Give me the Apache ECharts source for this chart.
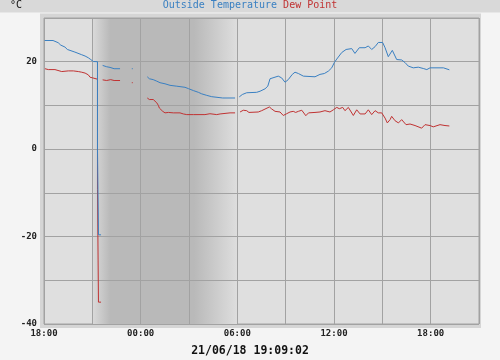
<!DOCTYPE html>
<html>
<head>
<meta charset="utf-8">
<script src="https://cdn.jsdelivr.net/npm/echarts@6/dist/echarts.min.js"></script>
<style>
html,body{margin:0;padding:0;background:#f4f4f4;}
#chart{width:500px;height:360px;}
</style>
</head>
<body>
<div id="chart"></div>
<script>
// Hours since 18:00 on 20/06/18, value in °C. '-' marks a gap in the record.
const outsideTemp = [
 [0.04,24.85],[0.56,24.85],[0.62,24.4],[0.88,24.35],[0.95,24.05],[1.04,23.8],[1.16,23.6],[1.30,23.35],[1.45,22.8],[1.57,22.4],[1.92,22.2],[2.03,21.9],[2.34,21.6],[2.55,21.3],[2.75,20.9],[2.90,20.5],[3.06,20.05],[3.32,20.0],[3.32,0.0],[3.38,0.0],[3.38,-19.6],[3.54,-19.6],[3.59,'-'],
 [3.64,19.15],[3.89,18.85],[4.10,18.7],[4.35,18.4],[4.72,18.4],[5.0,'-'],
 [5.45,18.4],[5.51,18.4],[6.0,'-'],
 [6.41,16.55],[6.54,16.1],[6.78,15.9],[7.00,15.55],[7.20,15.2],[7.51,14.95],[7.82,14.6],[8.24,14.4],[8.75,14.15],[8.96,13.85],[9.27,13.4],[9.58,13.0],[9.79,12.65],[10.10,12.3],[10.41,12.0],[11.09,11.7],[11.86,11.7],[11.98,'-'],
 [12.12,11.95],[12.31,12.5],[12.58,12.9],[13.20,13.0],[13.41,13.25],[13.72,13.8],[13.89,14.4],[14.03,16.1],[14.13,16.45],[14.54,16.7],[14.75,16.3],[14.96,15.3],[15.16,15.9],[15.41,17.1],[15.58,17.6],[15.79,17.3],[16.10,16.7],[16.82,16.55],[17.13,17.1],[17.40,17.3],[17.65,17.85],[17.86,18.6],[18.02,19.8],[18.17,20.6],[18.27,21.05],[18.48,22.1],[18.75,22.8],[19.10,23.0],[19.30,21.9],[19.57,23.2],[19.93,23.2],[20.13,23.6],[20.34,22.8],[20.55,23.45],[20.75,24.4],[21.02,24.4],[21.17,23.2],[21.37,21.15],[21.62,22.6],[21.89,20.5],[22.20,20.4],[22.41,19.8],[22.61,19.0],[22.92,18.6],[23.23,18.75],[23.54,18.45],[23.76,18.2],[23.96,18.6],[24.79,18.6],[25.16,18.15]
];
const dewPoint = [
 [0.06,18.4],[0.17,18.0],[0.27,18.2],[0.68,18.2],[0.79,18.05],[1.10,17.75],[1.20,18.0],[1.51,17.9],[1.61,17.75],[1.82,17.9],[2.13,17.75],[2.34,17.6],[2.55,17.4],[2.75,17.0],[2.86,16.45],[3.02,16.3],[3.06,16.0],[3.32,16.0],[3.32,-9.3],[3.38,-9.3],[3.38,-35.0],[3.54,-35.0],[3.59,'-'],
 [3.64,15.85],[3.89,15.7],[3.99,16.1],[4.14,15.9],[4.35,15.7],[4.72,15.7],[5.0,'-'],
 [5.45,15.2],[5.51,15.2],[6.0,'-'],
 [6.41,11.7],[6.54,11.35],[6.78,11.35],[6.89,10.95],[7.00,10.6],[7.10,10.0],[7.16,9.4],[7.24,9.2],[7.37,8.65],[7.51,8.3],[7.72,8.4],[8.03,8.3],[8.44,8.3],[8.65,8.05],[8.86,7.9],[9.27,7.9],[9.99,7.9],[10.30,8.1],[10.41,7.7],[10.72,7.9],[10.93,8.05],[11.55,8.3],[11.86,8.3],[11.98,'-'],
 [12.17,8.5],[12.37,8.9],[12.48,8.5],[12.58,8.8],[12.72,8.4],[13.30,8.5],[13.51,8.8],[13.99,9.65],[14.13,9.2],[14.34,8.65],[14.65,8.5],[14.85,7.7],[15.06,8.1],[15.27,8.5],[15.47,8.65],[15.62,8.4],[15.79,8.65],[16.00,8.9],[16.25,7.65],[16.42,8.3],[16.82,8.4],[17.13,8.5],[17.44,8.8],[17.75,8.5],[17.96,9.0],[18.17,9.55],[18.33,9.25],[18.54,9.55],[18.68,8.8],[18.89,9.55],[19.00,9.55],[19.20,7.7],[19.41,9.0],[19.62,8.05],[19.93,8.05],[20.13,9.0],[20.34,7.9],[20.55,8.8],[20.75,8.3],[20.96,8.3],[21.17,7.1],[21.31,6.0],[21.48,6.75],[21.58,7.5],[21.79,6.5],[22.00,6.0],[22.20,6.75],[22.47,5.6],[22.72,5.75],[23.03,5.4],[23.44,4.8],[23.65,5.6],[23.96,5.4],[24.16,5.1],[24.58,5.6],[24.89,5.4],[24.99,5.75],[25.16,5.3]
];
const nightShade = [3.04, 12.0];           // hours: dusk .. dawn band
const xTickHours = [0, 6, 12, 18, 24];
const xTickLabels = ['18:00', '00:00', '06:00', '12:00', '18:00'];
const yTickLabels = [-40, -20, 0, 20];
const seriesNames = ['Outside Temperature', 'Dew Point'];
const unitLabel = '°C';
const stampLabel = '21/06/18 19:09:02';

const BLUE = '#3a80c2', RED = '#c03232', GRID = '#a2a2a2';
const MONO = '"DejaVu Sans Mono", "Liberation Mono", monospace';

const chart = echarts.init(document.getElementById('chart'), null, {renderer: 'canvas'});
chart.setOption({
  animation: false,
  backgroundColor: '#f4f4f4',
  graphic: [
    {type: 'rect', z: -20, silent: true, shape: {x: 0, y: 0, width: 500, height: 12.5}, style: {fill: '#d9d9d9'}},
    {type: 'rect', z: -20, silent: true, shape: {x: 40, y: 13.5, width: 441, height: 314.5}, style: {fill: '#d5d5d5'}}
  ],
  title: [
    {
      text: '{a|' + seriesNames[0] + '} {b|' + seriesNames[1] + '}',
      left: 'center', top: -1, padding: 0,
      textStyle: {
        fontFamily: MONO, fontSize: 10, lineHeight: 12, fontWeight: 'normal',
        rich: {
          a: {fontFamily: MONO, fontSize: 10, color: BLUE, fontWeight: 'normal'},
          b: {fontFamily: MONO, fontSize: 10, color: RED, fontWeight: 'normal'}
        }
      }
    },
    {
      text: unitLabel, left: 10, top: 0, padding: 0,
      textStyle: {fontFamily: MONO, fontSize: 10, lineHeight: 11, color: '#111', fontWeight: 'normal'}
    },
    {
      text: stampLabel, left: 'center', top: 344, padding: 0,
      textStyle: {fontFamily: MONO, fontSize: 11.5, lineHeight: 14, color: '#111', fontWeight: 'bold'}
    }
  ],
  grid: {
    left: 44, right: 21, top: 18, bottom: 36, z: -1,
    show: true, backgroundColor: '#dfdfdf', borderColor: GRID, borderWidth: 1
  },
  xAxis: {
    type: 'value', min: 0, max: 27, interval: 3, z: 2,
    axisLine: {show: false}, axisTick: {show: false},
    splitLine: {show: true, lineStyle: {color: GRID, width: 1}},
    axisLabel: {
      margin: 5, fontFamily: MONO, fontSize: 9, fontWeight: 'bold', color: '#222',
      formatter: v => { const i = xTickHours.indexOf(v); return i >= 0 ? xTickLabels[i] : ''; }
    }
  },
  yAxis: {
    type: 'value', min: -40, max: 30, interval: 10, z: 2,
    axisLine: {show: false}, axisTick: {show: false},
    splitLine: {show: true, lineStyle: {color: GRID, width: 1}},
    axisLabel: {
      margin: 7, fontFamily: MONO, fontSize: 9, fontWeight: 'bold', color: '#222',
      formatter: v => yTickLabels.indexOf(v) >= 0 ? String(v) : ''
    }
  },
  series: [
    {
      type: 'line', name: 'night', data: [], z: 0, silent: true,
      markArea: {
        silent: true, z: 0,
        itemStyle: {
          color: new echarts.graphic.LinearGradient(0, 0, 1, 0, [
            {offset: 0, color: '#d9d9d9'},
            {offset: 0.12, color: '#b9b9b9'},
            {offset: 0.70, color: '#b9b9b9'},
            {offset: 1, color: '#dedede'}
          ])
        },
        data: [[{xAxis: nightShade[0]}, {xAxis: nightShade[1]}]]
      }
    },
    {
      type: 'line', name: seriesNames[1], data: dewPoint, z: 5,
      showSymbol: false, symbol: 'none', connectNulls: false,
      lineStyle: {color: RED, width: 1}, itemStyle: {color: RED}
    },
    {
      type: 'line', name: seriesNames[0], data: outsideTemp, z: 6,
      showSymbol: false, symbol: 'none', connectNulls: false,
      lineStyle: {color: BLUE, width: 1}, itemStyle: {color: BLUE}
    }
  ]
});
</script>
</body>
</html>
